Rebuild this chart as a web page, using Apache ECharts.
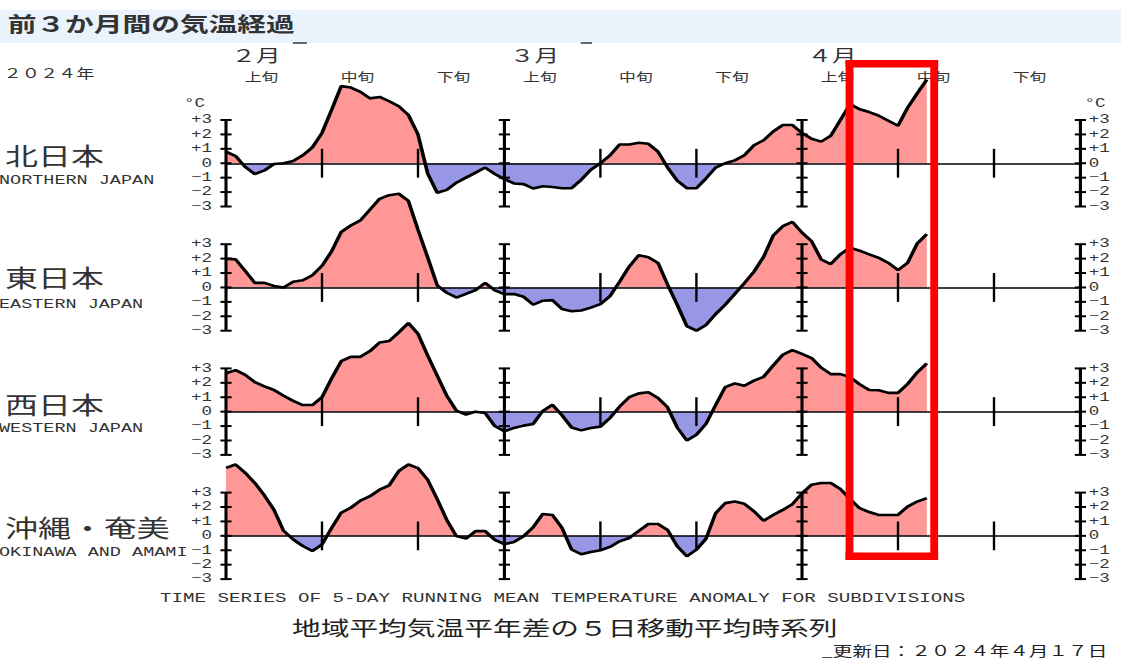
<!DOCTYPE html>
<html>
<head>
<meta charset="utf-8">
<script src="https://cdn.jsdelivr.net/npm/echarts@6/dist/echarts.min.js"></script>
<style>
html, body { margin: 0; padding: 0; background: #fff; overflow: hidden; }
/* the reference image is an 800px wide chart stretched to 1121px */
#main { width: 800px; height: 660px; transform: scaleX(1.40125); transform-origin: 0 0; }
</style>
</head>
<body>
<div id="main"></div>
<script>
// 5-day running mean temperature anomaly (°C), day 0 = Feb 1 2024
const north = [0.8, 0.5, -0.25, -0.75, -0.5, -0.05, 0.0, 0.15, 0.55, 1.1,
  2.1, 3.7, 5.35, 5.25, 4.95, 4.5, 4.6, 4.3, 3.95, 3.35,
  2.0, -0.7, -2.05, -1.85, -1.35, -1.0, -0.65, -0.3, -0.75, -1.1,
  -1.4, -1.45, -1.75, -1.6, -1.65, -1.73, -1.73, -1.15, -0.45, 0.0,
  0.55, 1.3, 1.3, 1.42, 1.35, 0.8, -0.3, -1.2, -1.73, -1.73,
  -1.05, -0.3, 0.0, 0.2, 0.55, 1.25, 1.6, 2.2, 2.65, 2.65,
  2.1, 1.7, 1.5, 1.9, 3.0, 4.1, 3.75, 3.55, 3.3, 2.95,
  2.6, 3.85, 4.85, 5.8];
const east = [2.0, 1.95, 1.15, 0.32, 0.32, 0.1, 0.0, 0.4, 0.5, 0.85,
  1.5, 2.5, 3.85, 4.3, 4.65, 5.4, 6.15, 6.4, 6.5, 6.0,
  4.0, 2.1, 0.15, -0.37, -0.7, -0.45, -0.18, 0.32, -0.2, -0.46,
  -0.46, -0.65, -1.2, -0.92, -0.88, -1.5, -1.65, -1.6, -1.4, -1.15,
  -0.6, 0.4, 1.45, 2.24, 2.1, 1.7, 0.2, -1.2, -2.68, -3.0,
  -2.6, -1.85, -1.2, -0.45, 0.3, 1.1, 2.12, 3.6, 4.25, 4.55,
  3.8, 3.2, 1.94, 1.62, 2.3, 2.75, 2.55, 2.3, 2.05, 1.7,
  1.2, 1.7, 3.05, 3.7];
const west = [2.66, 2.88, 2.55, 2.05, 1.75, 1.5, 1.1, 0.75, 0.46, 0.46,
  1.0, 2.3, 3.5, 3.8, 3.8, 4.2, 4.8, 4.9, 5.5, 6.15,
  5.4, 3.9, 2.5, 1.1, 0.07, -0.2, 0.0, -0.1, -1.0, -1.36,
  -1.13, -0.97, -0.85, 0.05, 0.48, -0.25, -1.1, -1.3, -1.13, -1.04,
  -0.44, 0.35, 1.0, 1.27, 1.34, 0.95, 0.3, -1.1, -2.0, -1.6,
  -0.85, 0.45, 1.7, 1.96, 1.8, 2.15, 2.42, 3.2, 3.95, 4.27,
  4.0, 3.72, 3.05, 2.6, 2.6, 2.4, 1.9, 1.5, 1.48, 1.3,
  1.3, 1.92, 2.72, 3.35];
const okinawa = [4.72, 4.95, 4.37, 3.67, 2.8, 1.8, 0.35, -0.25, -0.7, -1.05,
  -0.6, 0.55, 1.6, 1.95, 2.45, 2.75, 3.2, 3.5, 4.5, 4.95,
  4.7, 3.9, 2.55, 1.1, -0.02, -0.19, 0.33, 0.33, -0.28, -0.58,
  -0.42, -0.02, 0.6, 1.52, 1.45, 0.55, -0.95, -1.28, -1.12, -1.0,
  -0.77, -0.38, -0.15, 0.35, 0.82, 0.82, 0.4, -0.72, -1.42, -0.96,
  -0.2, 1.57, 2.27, 2.38, 2.22, 1.7, 1.05, 1.45, 1.8, 2.2,
  2.95, 3.55, 3.67, 3.67, 3.25, 2.55, 1.92, 1.65, 1.45, 1.45,
  1.45, 2.03, 2.38, 2.62];

const regionNames = ["北日本", "東日本", "西日本", "沖縄・奄美"];
const regionNamesEn = ["NORTHERN JAPAN", "EASTERN JAPAN", "WESTERN JAPAN", "OKINAWA AND AMAMI"];
const monthLabels = ["２月", "３月", "４月"];
const monthStartDays = [0, 29, 60];          // Feb 1, Mar 1, Apr 1
const lastDay = 89;                           // Apr 30
const dekadLabels = ["上旬", "中旬", "下旬", "上旬", "中旬", "下旬", "上旬", "中旬", "下旬"];
const dekadStartDays = [0, 10, 20, 29, 39, 49, 60, 70, 80];
const majorTickDays = [0, 29, 60, 89];
const minorTickDays = [10, 20, 39, 49, 70, 80];
const yTicks = [-3, -2, -1, 0, 1, 2, 3];
const highlightDays = [64.95, 73.77];         // red frame around the latest days

const RED = "#ff9797";
const BLUE = "#9797e6";
const S = 1121 / 800;
const GRID_LEFT = 226 / S;
const GRID_W = 854.4 / S;
const GRID_TOPS = [120, 244.2, 368.4, 492.6];
const GRID_H = 86.5;
const CJK = "'Noto Sans CJK JP'";
const MONO = "'Liberation Mono'";

const chart = echarts.init(document.getElementById("main"), null, { renderer: "svg" });

const fmt = (v) => (v > 0 ? "+" + v : v < 0 ? "\u2212" + (-v) : "0");

const panels = [north, east, west, okinawa];

const renderTicks = (params, api) => {
  const day = api.value(0);
  const major = api.value(2) === 1;
  const a = api.coord([day, major ? 3 : 1]);
  const b = api.coord([day, major ? -3 : -1]);
  const children = [{
    type: "line",
    shape: { x1: a[0], y1: a[1], x2: b[0], y2: b[1] },
    style: { stroke: "#000", lineWidth: major ? 2.2 : 1.7 },
  }];
  if (major) {
    yTicks.forEach((v) => {
      const p = api.coord([day, v]);
      children.push({
        type: "line",
        shape: { x1: p[0] - 4, y1: p[1], x2: p[0] + 4, y2: p[1] },
        style: { stroke: "#000", lineWidth: 2 },
      });
    });
  }
  return { type: "group", children };
};

const tickData = majorTickDays.map((d) => [d, 0, 1]).concat(minorTickDays.map((d) => [d, 0, 0]));

const option = {
  animation: false,
  grid: GRID_TOPS.map((t) => ({ left: GRID_LEFT, top: t, width: GRID_W, height: GRID_H })),
  xAxis: panels.map((_, i) => ({
    gridIndex: i,
    type: "value",
    min: 0,
    max: lastDay,
    z: 4,
    axisLine: { onZero: true, lineStyle: { color: "#000", width: 1.6 } },
    axisTick: { show: false },
    axisLabel: { show: false },
    splitLine: { show: false },
  })),
  yAxis: [],
  visualMap: {
    type: "piecewise",
    show: false,
    dimension: 1,
    seriesIndex: [0, 1, 2, 3],
    pieces: [{ gte: -50, lt: 0, color: BLUE }, { gte: 0, lte: 50, color: RED }],
  },
  series: [],
};

panels.forEach((_, i) => {
  ["left", "right"].forEach((pos) => {
    option.yAxis.push({
      gridIndex: i,
      type: "value",
      position: pos,
      min: -3,
      max: 3,
      interval: 1,
      axisLine: { show: false },
      axisTick: { show: false },
      splitLine: { show: false },
      axisLabel: {
        margin: pos === "left" ? 10 : 6,
        fontFamily: MONO,
        fontSize: 12.5,
        color: "#333",
        formatter: fmt,
      },
    });
  });
});

// filled areas (red above 0, blue below)
panels.forEach((vals, i) => {
  option.series.push({
    type: "line",
    xAxisIndex: i,
    yAxisIndex: 2 * i,
    data: vals.map((v, d) => [d, v]),
    symbol: "none",
    clip: false,
    silent: true,
    z: 1,
    lineStyle: { width: 0 },
    areaStyle: { opacity: 1 },
  });
});
// black outline
panels.forEach((vals, i) => {
  option.series.push({
    type: "line",
    xAxisIndex: i,
    yAxisIndex: 2 * i,
    data: vals.map((v, d) => [d, v]),
    symbol: "none",
    clip: false,
    z: 5,
    lineStyle: { color: "#000", width: 2.6 },
  });
});
// month lines and dekad ticks
panels.forEach((_, i) => {
  option.series.push({
    type: "custom",
    xAxisIndex: i,
    yAxisIndex: 2 * i,
    data: tickData,
    encode: { x: 0, y: 1 },
    renderItem: renderTicks,
    silent: true,
    z: 3,
  });
});

chart.setOption(option);

const px = (d) => chart.convertToPixel({ xAxisIndex: 0 }, d);
const text = (str, x, y, font, align, color) => ({
  type: "text",
  x, y,
  silent: true,
  style: { text: str, font, fill: color || "#333", align: align || "left", verticalAlign: "middle" },
});

const g = [];
g.push({ type: "rect", shape: { x: 0, y: 10, width: 800, height: 33 }, style: { fill: "#eaf3fc" }, z: -1 });
g.push(text("前３か月間の気温経過", 5.5, 23, "bold 20.5px " + CJK, "left", "#333"));
g.push(text("２０２４年", 2.5, 72.5, "13px " + CJK));
monthLabels.forEach((m, k) => g.push(text(m, px(monthStartDays[k]) + 4, 54, "17.5px " + CJK)));
g.push({ type: "rect", shape: { x: 209, y: 42, width: 10, height: 2 }, style: { fill: "#666" } });
g.push({ type: "rect", shape: { x: 414.5, y: 42, width: 8, height: 2 }, style: { fill: "#666" } });
dekadLabels.forEach((d, k) => g.push(text(d, px(dekadStartDays[k] + 3.7), 77, "12px " + CJK, "center")));
g.push(text("°C", GRID_LEFT - 15, 104, "12.5px " + MONO, "right"));
g.push(text("°C", GRID_LEFT + GRID_W + 3, 104, "12.5px " + MONO, "left"));

const nameY = [155, 277, 404, 527];
const nameEnY = [180.5, 305, 429, 552.5];
regionNames.forEach((n, i) => {
  g.push(text(n, 3.6, nameY[i], "23.5px " + CJK));
  g.push(text(regionNamesEn[i], -0.7, nameEnY[i], "13.2px " + MONO));
});

g.push(text("TIME SERIES OF 5-DAY RUNNING MEAN TEMPERATURE ANOMALY FOR SUBDIVISIONS", 401.5, 598, "13.7px " + MONO, "center"));
g.push(text("地域平均気温平年差の５日移動平均時系列", 403, 627, "20.5px " + CJK, "center", "#222"));
g.push(text("_更新日：２０２４年４月１７日", 586.5, 650, "14px " + CJK, "left", "#222"));

// red highlight frame
const fx0 = px(highlightDays[0]);
const fx1 = px(highlightDays[1]);
const fy0 = 60, fy1 = 560, bw = 5.6, bh = 7.5;
[
  { x: fx0 - bw / 2, y: fy0, width: bw, height: fy1 - fy0 },
  { x: fx1 - bw / 2, y: fy0, width: bw, height: fy1 - fy0 },
  { x: fx0 - bw / 2, y: fy0, width: fx1 - fx0 + bw, height: bh },
  { x: fx0 - bw / 2, y: fy1 - bh, width: fx1 - fx0 + bw, height: bh },
].forEach((r) => g.push({ type: "rect", shape: r, style: { fill: "#ff0000" }, z: 100 }));

chart.setOption({ graphic: g });
</script>
</body>
</html>
